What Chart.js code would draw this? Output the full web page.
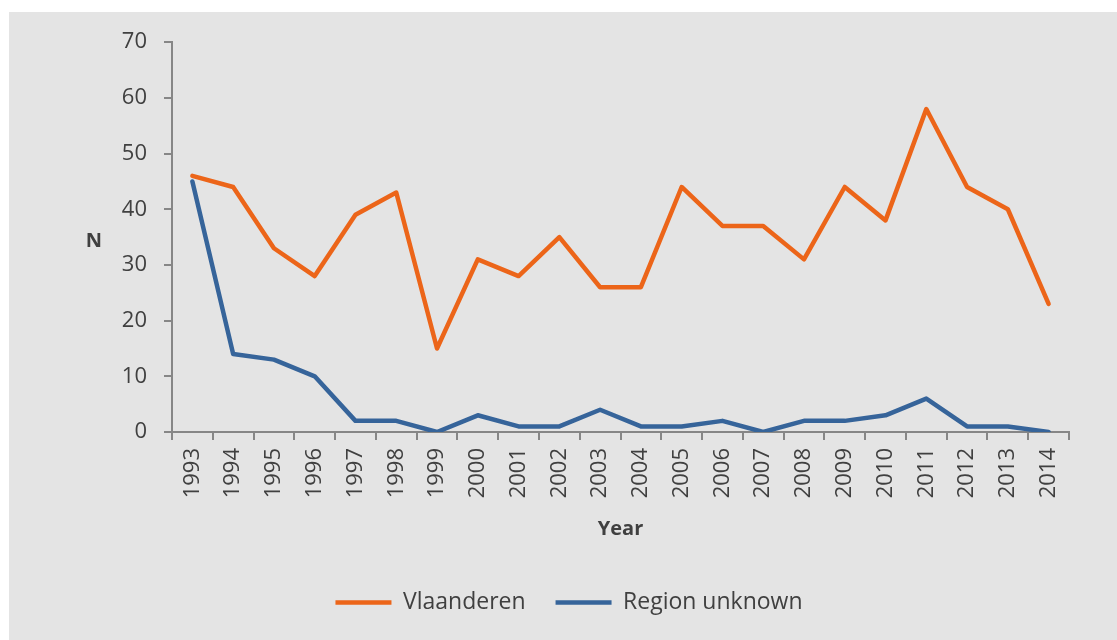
<!DOCTYPE html>
<html>
<head>
<meta charset="utf-8">
<script src="https://cdn.jsdelivr.net/npm/chart.js@4"></script>
<style>
  body { margin: 0; background: #ffffff; }
  #wrap { position: absolute; left: 9px; top: 12px; width: 1108px; height: 628px; background: #e4e4e4; }
</style>
</head>
<body>
<div id="wrap"><canvas id="lineChart"></canvas></div>
<script>
var years = ['1993','1994','1995','1996','1997','1998','1999','2000','2001','2002','2003',
             '2004','2005','2006','2007','2008','2009','2010','2011','2012','2013','2014'];
var vlaanderen = [46, 44, 33, 28, 39, 43, 15, 31, 28, 35, 26, 26, 44, 37, 37, 31, 44, 38, 58, 44, 40, 23];
var regionUnknown = [45, 14, 13, 10, 2, 2, 0, 3, 1, 1, 4, 1, 1, 2, 0, 2, 2, 3, 6, 1, 1, 0];
var yTicks = [0, 10, 20, 30, 40, 50, 60, 70];

var textColor = '#404040';
var axisColor = '#868686';

function line(label, data, color) {
  return {
    label: label,
    data: data,
    borderColor: color,
    backgroundColor: color,
    borderWidth: 4.5,
    borderCapStyle: 'round',
    borderJoinStyle: 'round',
    pointRadius: 0,
    tension: 0
  };
}

// y axis title drawn upright, like the original
var yTitle = {
  id: 'yTitle',
  afterDraw: function(chart) {
    var c = chart.ctx;
    var y = chart.scales.y;
    c.save();
    c.fillStyle = textColor;
    c.font = 'bold 20px "Open Sans"';
    c.textAlign = 'center';
    c.textBaseline = 'middle';
    c.fillText('N', 85, (y.top + y.bottom) / 2 + 4);
    c.restore();
  }
};

var ctx = document.getElementById('lineChart');
var lineChart = new Chart(ctx, {
  type: 'line',
  data: {
    labels: years,
    datasets: [
      line('Vlaanderen', vlaanderen, '#ec6519'),
      line('Region unknown', regionUnknown, '#36649a')
    ]
  },
  options: {
    responsive: true,
    maintainAspectRatio: false,
    animation: false,
    layout: { padding: { left: 60, right: 48, top: 30, bottom: 16 } },
    plugins: {
      tooltip: { enabled: false },
      legend: {
        position: 'bottom',
        labels: {
          usePointStyle: true,
          pointStyle: 'line',
          pointStyleWidth: 56,
          boxHeight: 4,
          padding: 30,
          color: textColor,
          font: { family: 'Open Sans', size: 23 }
        }
      }
    },
    scales: {
      x: {
        offset: true,
        grid: { offset: true, drawOnChartArea: false, drawTicks: true, tickLength: 8, color: axisColor, lineWidth: 2 },
        border: { color: axisColor, width: 2 },
        ticks: {
          autoSkip: false, minRotation: 90, maxRotation: 90, padding: 8,
          color: textColor, font: { family: 'Open Sans', size: 22 }
        },
        title: { display: true, text: 'Year', color: textColor, padding: { top: 6, bottom: 20 },
                 font: { family: 'Open Sans', size: 20, weight: 'bold' } },
        afterFit: function(scale) { scale.height = 129; }
      },
      y: {
        min: 0,
        max: 70,
        afterBuildTicks: function(scale) { scale.ticks = yTicks.map(function(v) { return { value: v }; }); },
        grid: { drawOnChartArea: false, drawTicks: true, tickLength: 8, color: axisColor, lineWidth: 2 },
        border: { color: axisColor, width: 2 },
        ticks: { padding: 17, color: textColor, font: { family: 'Open Sans', size: 22 } },
        afterFit: function(scale) { scale.width = 103; }
      }
    }
  },
  plugins: [yTitle]
});
</script>
</body>
</html>
